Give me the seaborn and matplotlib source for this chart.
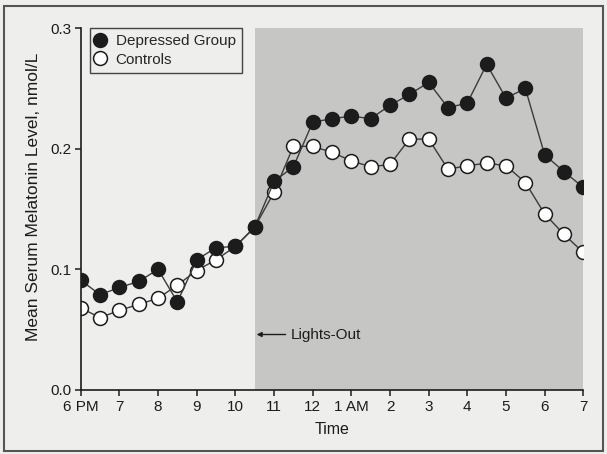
import matplotlib
matplotlib.use('Agg')
import matplotlib.pyplot as plt
from matplotlib.patches import Rectangle
import seaborn as sns
import pandas as pd

sns.set_style('ticks')
plt.rcParams['font.family'] = ['Liberation Sans Narrow', 'Liberation Sans', 'DejaVu Sans']

# hours after 6 PM, one sample every half hour
hours = [0, 0.5, 1, 1.5, 2, 2.5, 3, 3.5, 4, 4.5, 5, 5.5, 6, 6.5,
         7, 7.5, 8, 8.5, 9, 9.5, 10, 10.5, 11, 11.5, 12, 12.5, 13]
depressed = [0.091, 0.079, 0.085, 0.090, 0.100, 0.073, 0.108, 0.118, 0.119,
             0.135, 0.173, 0.185, 0.222, 0.225, 0.227, 0.225, 0.236, 0.245,
             0.255, 0.234, 0.238, 0.270, 0.242, 0.250, 0.195, 0.181, 0.168]
controls = [0.068, 0.060, 0.066, 0.071, 0.076, 0.087, 0.099, 0.108, 0.119,
            0.135, 0.164, 0.202, 0.202, 0.197, 0.190, 0.185, 0.187, 0.208,
            0.208, 0.183, 0.186, 0.188, 0.186, 0.172, 0.146, 0.129, 0.114]
tick_hours = [0, 1, 2, 3, 4, 5, 6, 7, 8, 9, 10, 11, 12, 13]
tick_labels = ['6 PM', '7', '8', '9', '10', '11', '12', '1 AM', '2', '3', '4', '5', '6', '7']
lights_out = 4.5

df = pd.DataFrame({'hour': hours, 'Depressed Group': depressed, 'Controls': controls})

paper = '#eeeeec'
ink = '#1c1c1c'

fig = plt.figure(figsize=(6.07, 4.54), dpi=100, facecolor=paper)
ax = fig.add_axes([0.133, 0.141, 0.828, 0.797])
ax.set_facecolor(paper)

ax.axvspan(lights_out, 13, ymin=0, ymax=1, color='#c6c6c4', lw=0, zorder=0)

sns.lineplot(data=df, x='hour', y='Controls', ax=ax, color='#3a3a3a', lw=1,
             marker='o', markersize=10, markerfacecolor='white',
             markeredgecolor=ink, markeredgewidth=1.1, label='Controls', zorder=3)
sns.lineplot(data=df, x='hour', y='Depressed Group', ax=ax, color='#3a3a3a', lw=1,
             marker='o', markersize=10, markerfacecolor=ink,
             markeredgecolor=ink, markeredgewidth=1.1, label='Depressed Group', zorder=4)

ax.set_xlim(0, 13)
ax.set_ylim(0, 0.3)
ax.set_xticks(tick_hours)
ax.set_xticklabels(tick_labels)
ax.set_yticks([0.0, 0.1, 0.2, 0.3])
ax.set_yticklabels(['0.0', '0.1', '0.2', '0.3'])
ax.tick_params(axis='both', direction='out', length=4, width=1.1, color=ink,
               labelsize=11, labelcolor=ink, pad=3)

sns.despine(ax=ax)
for s in ['left', 'bottom']:
    ax.spines[s].set_color(ink)
    ax.spines[s].set_linewidth(1.2)
ax.spines['left'].set_zorder(5)
ax.spines['bottom'].set_zorder(5)

ax.set_xlabel('Time', fontsize=11.5, color=ink, labelpad=6)
ax.set_ylabel('Mean Serum Melatonin Level, nmol/L', fontsize=12.5, color=ink)
ax.yaxis.set_label_coords(-0.08, 0.535)

# legend: depressed first
handles, labels = ax.get_legend_handles_labels()
order = [labels.index('Depressed Group'), labels.index('Controls')]
leg = ax.legend([handles[i] for i in order], [labels[i] for i in order],
                loc='upper left', bbox_to_anchor=(0.018, 1.0), borderaxespad=0,
                fontsize=11, frameon=True, fancybox=False, handlelength=0.6,
                handletextpad=0.7, borderpad=0.4, labelspacing=0.3)
leg.get_frame().set_edgecolor('#444444')
leg.get_frame().set_facecolor(paper)
leg.get_frame().set_linewidth(1)
leg.get_frame().set_alpha(1)
for h in leg.legend_handles:
    h.set_linestyle('None')

ax.annotate('', xy=(4.55, 0.046), xytext=(5.3, 0.046),
            arrowprops=dict(arrowstyle='-|>', color=ink, lw=1, mutation_scale=7,
                            shrinkA=0, shrinkB=0))
ax.text(5.44, 0.046, 'Lights-Out', fontsize=11, color=ink, va='center', ha='left')

fig.patches.append(Rectangle((0.007, 0.007), 0.987, 0.98, transform=fig.transFigure,
                             fill=False, edgecolor='#555555', lw=1.5))

fig.savefig('out.png', dpi=100, facecolor=paper)
